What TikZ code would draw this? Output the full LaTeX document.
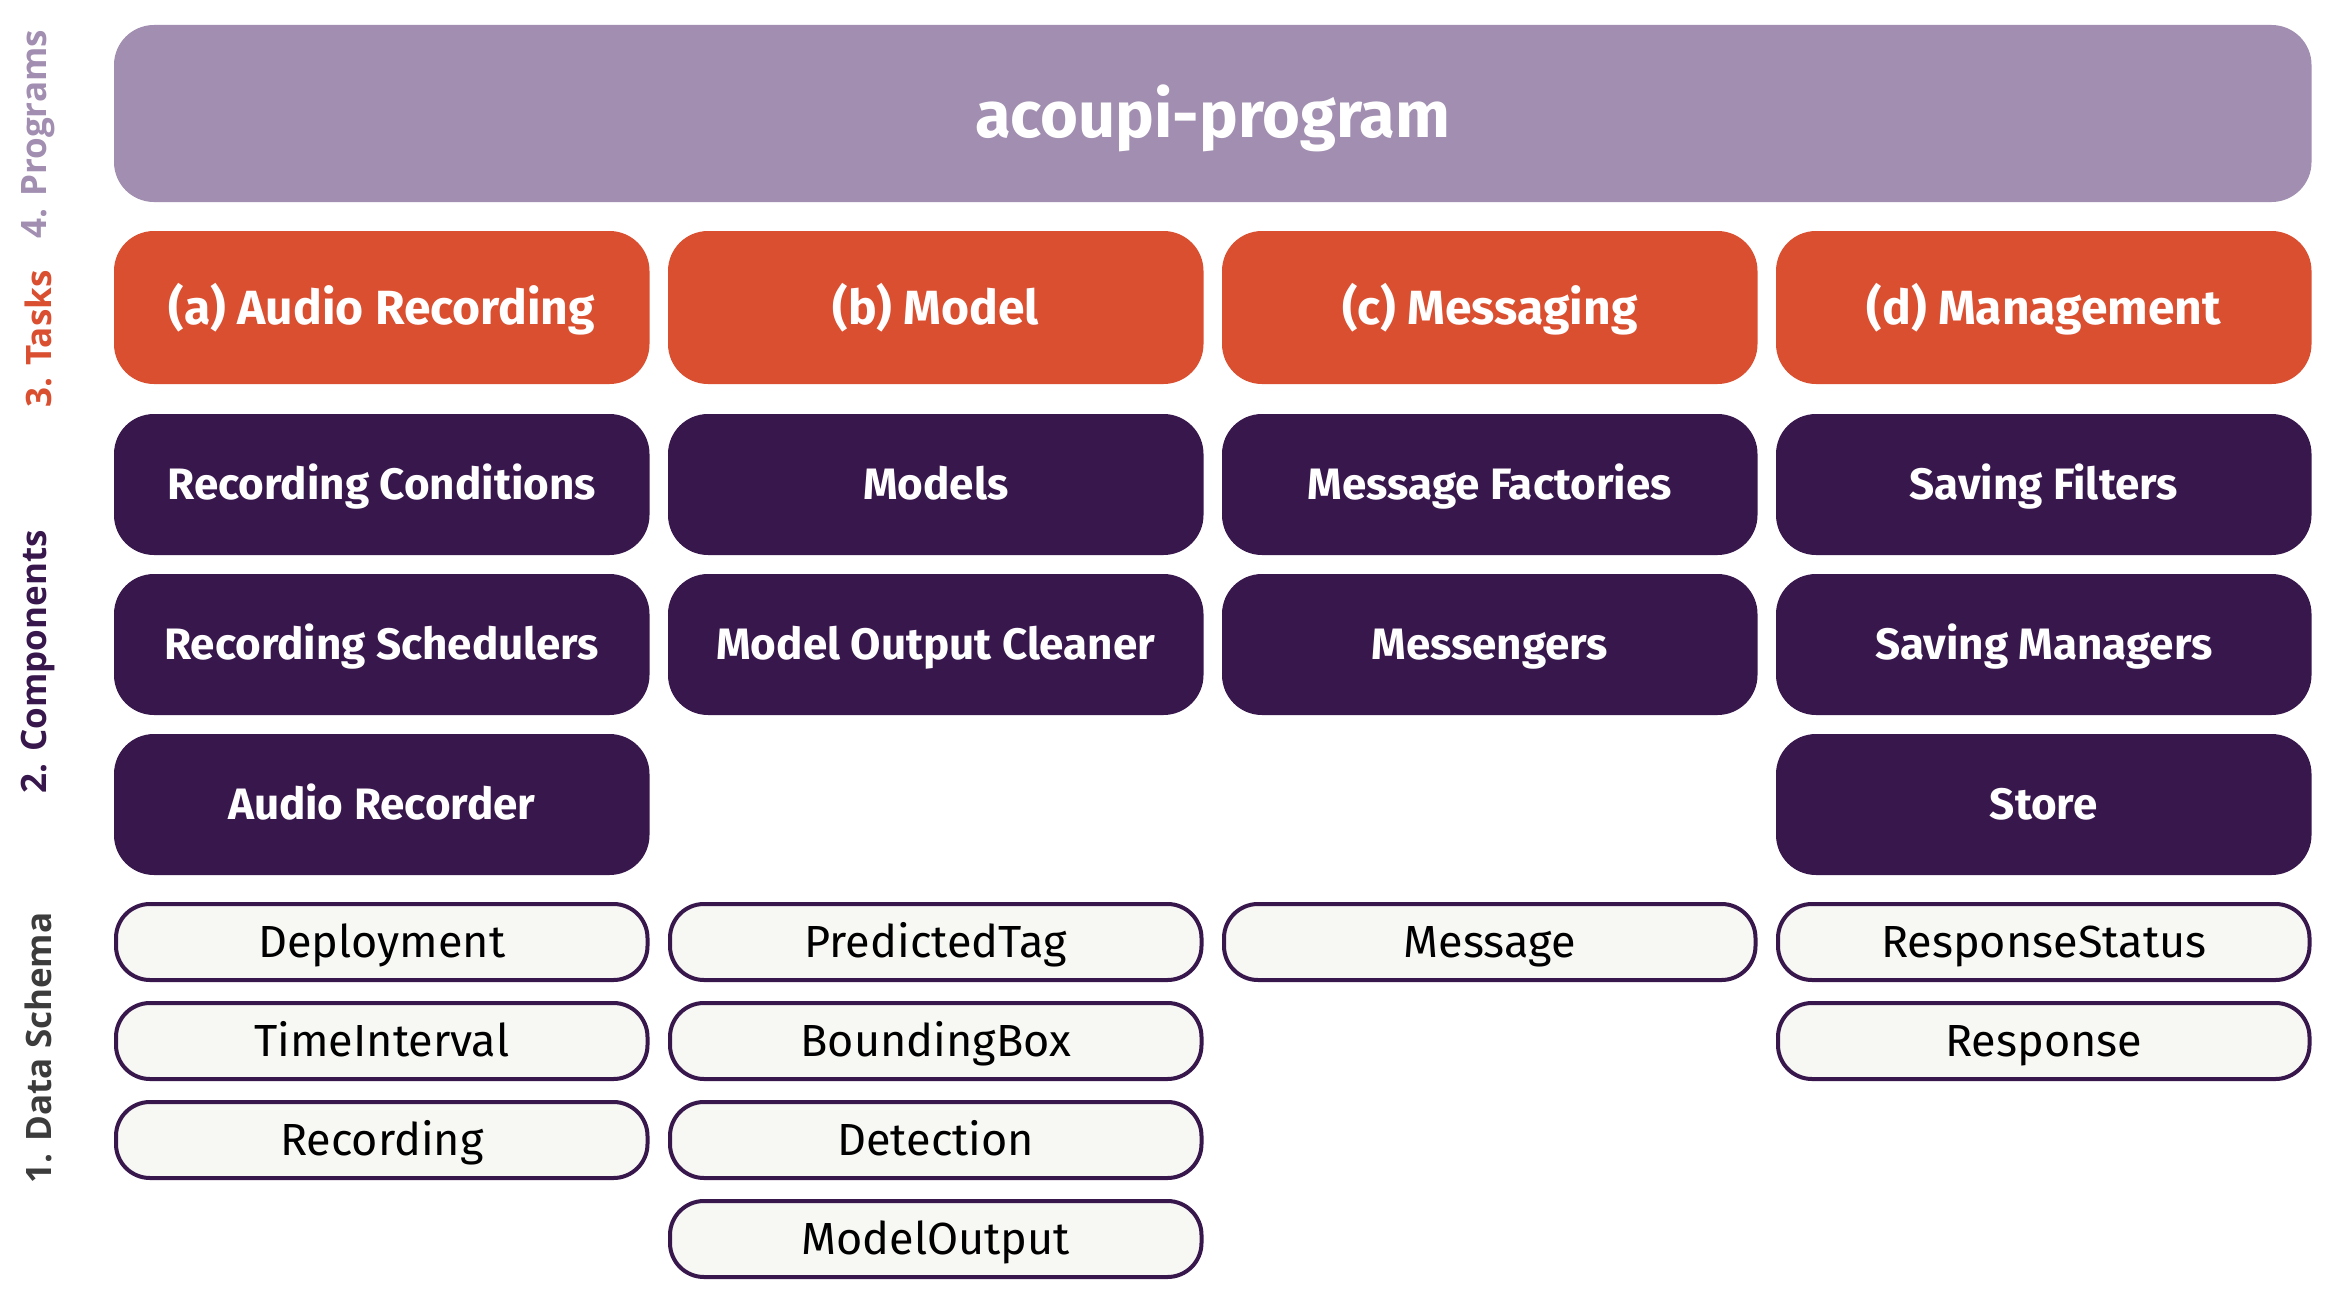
\documentclass[tikz,border=0pt]{standalone}
\usepackage{fontspec}
\setmainfont{Fira Sans}
\newfontfamily\sidefont{Open Sans}
\usepackage{tikz}
\usetikzlibrary{positioning}
\usepackage{xcolor}
\definecolor{progpurple}{HTML}{A18EB0}
\definecolor{taskorange}{HTML}{D94F30}
\definecolor{compdark}{HTML}{38174D}
\definecolor{schemafill}{HTML}{F7F7F3}
\definecolor{schemagray}{HTML}{3C3C3C}
\tikzset{
	program/.style={fill=progpurple, text=white, rounded corners=40pt, minimum width=2197.5pt, minimum height=177pt, inner sep=0pt, text height=47pt, text depth=0pt, font=\fontsize{65}{72}\selectfont\bfseries},
	task/.style={fill=taskorange, text=white, rounded corners=40pt, minimum width=535.5pt, minimum height=153pt, inner sep=0pt, text height=33pt, text depth=0pt, font=\fontsize{48}{54}\selectfont\bfseries},
	component/.style={fill=compdark, text=white, rounded corners=40pt, minimum width=535.5pt, minimum height=141pt, inner sep=0pt, text height=30pt, text depth=0pt, font=\fontsize{44}{50}\selectfont\bfseries},
	schema/.style={draw=compdark, line width=4pt, fill=schemafill, text=black, rounded corners=34pt, minimum width=531.5pt, minimum height=76pt, inner sep=0pt, text height=31pt, text depth=0pt, font=\fontsize{45}{50}\selectfont},
	layer/.style={rotate=90, inner sep=0pt, font=\sidefont\fontsize{35}{40}\selectfont\bfseries}
}

\begin{document}
\begin{tikzpicture}[x=1pt,y=-1pt]
		\useasboundingbox[fill=white] (0,0) rectangle (2348,1306);
		% layer labels
		\node[layer, text=progpurple] (lprog) at (38,134.5) {4. Programs};
		\node[layer, text=taskorange] (ltask) at (38,339) {3. Tasks};
		\node[layer, text=compdark] (lcomp) at (38,662) {2. Components};
		\node[layer, text=schemagray] (lschema) at (38,1048) {1. Data Schema};
		% programs
		\node[program] (prog) at (1212.75,113.5) {acoupi-program};
		% tasks
		\node[task] (taska) at (381.75,307.5) {(a) Audio Recording};
		\node[task] (taskb) at (935.75,307.5) {(b) Model};
		\node[task] (taskc) at (1489.75,307.5) {(c) Messaging};
		\node[task] (taskd) at (2043.75,307.5) {(d) Management};
		% components
		\node[component] (conditions) at (381.75,484.5) {Recording Conditions};
		\node[component] (schedulers) at (381.75,644.5) {Recording Schedulers};
		\node[component] (recorder) at (381.75,804.5) {Audio Recorder};
		\node[component] (models) at (935.75,484.5) {Models};
		\node[component] (cleaner) at (935.75,644.5) {Model Output Cleaner};
		\node[component] (factories) at (1489.75,484.5) {Message Factories};
		\node[component] (messengers) at (1489.75,644.5) {Messengers};
		\node[component] (filters) at (2043.75,484.5) {Saving Filters};
		\node[component] (managers) at (2043.75,644.5) {Saving Managers};
		\node[component] (store) at (2043.75,804.5) {Store};
		% data schema
		\node[schema] (deployment) at (381.75,942) {Deployment};
		\node[schema] (interval) at (381.75,1041) {TimeInterval};
		\node[schema] (recording) at (381.75,1140) {Recording};
		\node[schema] (predtag) at (935.75,942) {PredictedTag};
		\node[schema] (bbox) at (935.75,1041) {BoundingBox};
		\node[schema] (detection) at (935.75,1140) {Detection};
		\node[schema] (output) at (935.75,1239) {ModelOutput};
		\node[schema] (message) at (1489.75,942) {Message};
		\node[schema] (status) at (2043.75,942) {ResponseStatus};
		\node[schema] (response) at (2043.75,1041) {Response};
	\end{tikzpicture}
\end{document}
